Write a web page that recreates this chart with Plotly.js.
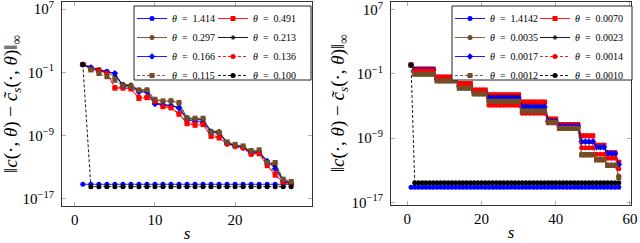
<!DOCTYPE html>
<html><head><meta charset="utf-8">
<script src="https://cdn.plot.ly/plotly-3.0.1.min.js"></script>
<style>body{margin:0;background:#fff}#c{width:640px;height:243px}</style>
</head><body><div id="c"></div>
<script>
// ---------- Left panel data (s = 1..27) ----------
const sLeft = [1,2,3,4,5,6,7,8,9,10,11,12,13,14,15,16,17,18,19,20,21,22,23,24,25,26,27];
const namesLeft = ['1.414','0.491','0.297','0.213','0.166','0.136','0.115','0.100'];
const L_1414 = [7e-16,7e-16,7e-16,7e-16,7e-16,7e-16,7e-16,7e-16,7e-16,7e-16,7e-16,7e-16,7e-16,7e-16,7e-16,7e-16,7e-16,7e-16,7e-16,7e-16,7e-16,7e-16,7e-16,7e-16,7e-16,7e-16,7e-16];
const L_0491 = [1.0,0.28,0.2,0.1,1e-3,1e-3,7.9e-4,5e-5,6.3e-5,1.6e-5,4.5e-6,3.2e-6,5e-7,3.2e-8,2e-8,2.5e-8,7.9e-10,5e-10,1e-10,5e-11,3.2e-11,5e-12,5e-12,1.6e-13,1e-14,1.3e-15,1e-15];
const L_0297 = [1.0,0.32,0.16,0.11,0.025,3.2e-3,2.5e-3,6.3e-4,6.3e-4,3.2e-5,2e-5,2.5e-5,1.3e-5,2e-7,1.3e-7,1.3e-7,2.5e-9,3.2e-9,1.3e-10,6.3e-11,4e-11,1e-11,1.3e-11,2.5e-13,3.2e-13,2.5e-15,1.3e-15];
const L_0213 = [1.05,0.45,0.22,0.13,0.063,2.5e-3,2e-3,5e-4,4e-4,1.6e-5,7.9e-6,6.3e-6,4e-6,1.6e-7,1e-7,1e-7,4e-9,3.2e-9,1.3e-10,5e-11,4e-11,7.9e-12,1e-11,5e-13,1.3e-13,2e-15,1e-15];
const L_0166 = [1.0,0.4,0.13,0.12,0.079,1.6e-3,1.3e-3,3.2e-4,3.2e-4,1e-5,7.9e-6,6.3e-6,2.8e-6,1e-7,6.3e-8,5e-8,2.5e-9,2e-9,1e-10,5e-11,3.2e-11,6.3e-12,7.9e-12,6.3e-13,6.3e-14,1.6e-15,7.9e-16];
const L_0136 = [1.0,0.25,0.16,0.079,1.3e-3,1.3e-3,1e-3,7.9e-5,7.9e-5,2e-5,5e-6,4e-6,6.3e-7,5e-8,3.2e-8,3.2e-8,1.3e-9,6.3e-10,7.9e-11,4e-11,2.5e-11,4e-12,6.3e-12,2.5e-13,1.6e-14,1e-15,7.9e-16];
const L_0115 = [1.0,0.2,0.071,0.028,0.01,2e-3,1.6e-3,5.6e-4,5.8e-4,4e-5,2.5e-5,2.5e-5,1.6e-5,1.6e-7,1.6e-7,1.6e-7,2.5e-9,2.5e-9,1.6e-10,7.9e-11,5e-11,1.3e-11,1.6e-11,4e-13,4e-13,3.2e-15,1.6e-15];
const L_0100 = [1.0,3.5e-16,3.5e-16,3.5e-16,3.5e-16,3.5e-16,3.5e-16,3.5e-16,3.5e-16,3.5e-16,3.5e-16,3.5e-16,3.5e-16,3.5e-16,3.5e-16,3.5e-16,3.5e-16,3.5e-16,3.5e-16,3.5e-16,3.5e-16,3.5e-16,3.5e-16,3.5e-16,3.5e-16,3.5e-16,3.5e-16];

// ---------- Right panel data (s = 1..57) ----------
const sRight = [1,2,3,4,5,6,7,8,9,10,11,12,13,14,15,16,17,18,19,20,21,22,23,24,25,26,27,28,29,30,31,32,33,34,35,36,37,38,39,40,41,42,43,44,45,46,47,48,49,50,51,52,53,54,55,56,57];
const namesRight = ['1.4142','0.0070','0.0035','0.0023','0.0017','0.0014','0.0012','0.0010'];
const R_14142 = [8e-16,8e-16,8e-16,8e-16,8e-16,8e-16,8e-16,8e-16,8e-16,8e-16,8e-16,8e-16,8e-16,8e-16,8e-16,8e-16,8e-16,8e-16,8e-16,8e-16,8e-16,8e-16,8e-16,8e-16,8e-16,8e-16,8e-16,8e-16,8e-16,8e-16,8e-16,8e-16,8e-16,8e-16,8e-16,8e-16,8e-16,8e-16,8e-16,8e-16,8e-16,8e-16,8e-16,8e-16,8e-16,8e-16,8e-16,8e-16,8e-16,8e-16,8e-16,8e-16,8e-16,8e-16,8e-16,8e-16,8e-16];
const R_0070 = [1.3, 0.4,0.4,0.4,0.4,0.4,0.4, 0.04,0.04,0.04,0.04,0.04,0.04, 6.3e-3,6.3e-3,6.3e-3,6.3e-3, 1e-3,1e-3,1e-3,1e-3, 2.5e-4,2.5e-4,2.5e-4,2.5e-4,2.5e-4,2.5e-4,2.5e-4,2.5e-4,2.5e-4, 3.2e-5,3.2e-5,3.2e-5,3.2e-5,3.2e-5,3.2e-5,3.2e-5, 2.5e-7,2.5e-7,2.5e-7, 5e-8,5e-8,5e-8,5e-8,5e-8,5e-8, 2e-9,2e-9,2e-9,2e-9, 1.3e-10,1.3e-10,1.3e-10, 1.6e-11,1.6e-11,1.6e-11, 1e-12];
const R_0035 = [1.3, 0.1,0.1,0.1,0.1,0.1,0.1, 0.016,0.016,0.016,0.016,0.016,0.016, 2e-3,2e-3,2e-3,2e-3, 4e-4,4e-4,4e-4,4e-4, 5e-5,5e-5,5e-5,5e-5,5e-5,5e-5,5e-5,5e-5,5e-5, 3.2e-6,3.2e-6,3.2e-6,3.2e-6,3.2e-6,3.2e-6,3.2e-6, 1e-7,1e-7,1e-7, 2e-8,2e-8,2e-8,2e-8,2e-8,2e-8, 1e-11,1e-11,1e-11,1e-11, 2.5e-12,2.5e-12,2.5e-12, 5e-13,5e-13,5e-13, 2e-14];
const R_0023 = [1.3, 0.32,0.32,0.32,0.32,0.32,0.32, 0.025,0.025,0.025,0.025,0.025,0.025, 3.2e-3,3.2e-3,3.2e-3,3.2e-3, 6.3e-4,6.3e-4,6.3e-4,6.3e-4, 1.3e-4,1.3e-4,1.3e-4,1.3e-4,1.3e-4,1.3e-4,1.3e-4,1.3e-4,1.3e-4, 1e-5,1e-5,1e-5,1e-5,1e-5,1e-5,1e-5, 1.3e-7,1.3e-7,1.3e-7, 3.2e-8,3.2e-8,3.2e-8,3.2e-8,3.2e-8,3.2e-8, 3.2e-10,3.2e-10,3.2e-10,3.2e-10, 6.3e-11,6.3e-11,6.3e-11, 1e-11,1e-11,1e-11, 6.3e-13];
const R_0017 = [1.3, 0.32,0.32,0.32,0.32,0.32,0.32, 0.025,0.025,0.025,0.025,0.025,0.025, 3.2e-3,3.2e-3,3.2e-3,3.2e-3, 6.3e-4,6.3e-4,6.3e-4,6.3e-4, 1e-4,1e-4,1e-4,1e-4,1e-4,1e-4,1e-4,1e-4,1e-4, 7.9e-6,7.9e-6,7.9e-6,7.9e-6,7.9e-6,7.9e-6,7.9e-6, 1.3e-7,1.3e-7,1.3e-7, 3.2e-8,3.2e-8,3.2e-8,3.2e-8,3.2e-8,3.2e-8, 4e-10,4e-10,4e-10,4e-10, 7.9e-11,7.9e-11,7.9e-11, 1.3e-11,1.3e-11,1.3e-11, 5e-13];
const R_0014 = [1.3, 0.25,0.25,0.25,0.25,0.25,0.25, 0.032,0.032,0.032,0.032,0.032,0.032, 4e-3,4e-3,4e-3,4e-3, 7.9e-4,7.9e-4,7.9e-4,7.9e-4, 1.3e-5,1.3e-5,1.3e-5,1.3e-5,1.3e-5,1.3e-5,1.3e-5,1.3e-5,1.3e-5, 1.3e-6,1.3e-6,1.3e-6,1.3e-6,1.3e-6,1.3e-6,1.3e-6, 7.9e-8,7.9e-8,7.9e-8, 2e-8,2e-8,2e-8,2e-8,2e-8,2e-8, 6.3e-11,6.3e-11,6.3e-11,6.3e-11, 1e-11,1e-11,1e-11, 3.2e-12,3.2e-12,3.2e-12, 1.6e-13];
const R_0012 = [1.3, 0.089,0.089,0.089,0.089,0.089,0.089, 0.013,0.013,0.013,0.013,0.013,0.013, 1.6e-3,1.6e-3,1.6e-3,1.6e-3, 3.2e-4,3.2e-4,3.2e-4,3.2e-4, 4e-5,4e-5,4e-5,4e-5,4e-5,4e-5,4e-5,4e-5,4e-5, 2.5e-6,2.5e-6,2.5e-6,2.5e-6,2.5e-6,2.5e-6,2.5e-6, 1e-7,1e-7,1e-7, 1.6e-8,1.6e-8,1.6e-8,1.6e-8,1.6e-8,1.6e-8, 7.9e-12,7.9e-12,7.9e-12,7.9e-12, 2e-12,2e-12,2e-12, 4e-13,4e-13,4e-13, 1.3e-14];
const R_0010 = [1.3,2.9e-15,2.9e-15,2.9e-15,2.9e-15,2.9e-15,2.9e-15,2.9e-15,2.9e-15,2.9e-15,2.9e-15,2.9e-15,2.9e-15,2.9e-15,2.9e-15,2.9e-15,2.9e-15,2.9e-15,2.9e-15,2.9e-15,2.9e-15,2.9e-15,2.9e-15,2.9e-15,2.9e-15,2.9e-15,2.9e-15,2.9e-15,2.9e-15,2.9e-15,2.9e-15,2.9e-15,2.9e-15,2.9e-15,2.9e-15,2.9e-15,2.9e-15,2.9e-15,2.9e-15,2.9e-15,2.9e-15,2.9e-15,2.9e-15,2.9e-15,2.9e-15,2.9e-15,2.9e-15,2.9e-15,2.9e-15,2.9e-15,2.9e-15,2.9e-15,2.9e-15,2.9e-15,2.9e-15,2.9e-15,2.9e-15];

// axis ticks
const xTicksLeft = [0,10,20];
const xTicksRight = [0,20,40,60];
const yTickVals = [1e7,1e-1,1e-9,1e-17];
const yTickText = ['10<sup>7</sup>','10<sup>\u22121</sup>','10<sup>\u22129</sup>','10<sup>\u221217</sup>'];

// styles (pgfplots default color cycle)
const BROWN = '#734d26';
const styles = [
  {color:'#0000ff', dash:'solid', symbol:'circle'},
  {color:'#ff0000', dash:'solid', symbol:'square'},
  {color:BROWN, dash:'solid', symbol:'circle'},
  {color:'#000000', dash:'solid', symbol:'asterisk-open'},
  {color:'#0000ff', dash:'solid', symbol:'diamond'},
  {color:'#ff0000', dash:'3px,2px', symbol:'circle'},
  {color:BROWN, dash:'3px,2px', symbol:'square'},
  {color:'#000000', dash:'3px,2px', symbol:'circle'}
];

const leftData = [L_1414,L_0491,L_0297,L_0213,L_0166,L_0136,L_0115,L_0100];
const rightData = [R_14142,R_0070,R_0035,R_0023,R_0017,R_0014,R_0012,R_0010];

function mk(x, y, name, st, xa, ya, legName){
  const star = st.symbol === 'asterisk-open';
  return {
    x:x, y:y, xaxis:xa, yaxis:ya, legend:legName, type:'scatter', mode:'lines+markers',
    name:'<i>\u03b8</i>\u2002=\u2002' + name,
    line:{color:st.color, width:0.9, dash:st.dash},
    marker:{symbol:st.symbol, size: star ? 4 : 5, color:st.color,
            line:{color:st.color, width: star ? 1 : 0}}
  };
}
const traces = [];
for(let i=0;i<8;i++) traces.push(mk(sLeft, leftData[i], namesLeft[i], styles[i], 'x', 'y', i%2===0 ? 'legend' : 'legend2'));
for(let i=0;i<8;i++) traces.push(mk(sRight, rightData[i], namesRight[i], styles[i], 'x2', 'y2', i%2===0 ? 'legend3' : 'legend4'));

const FONT = 'Liberation Serif';
const YTITLE = '\u2016<i>c</i>(\u00b7, <i>\u03b8</i>) \u2212 <i>c\u0303</i><sub><i>s</i></sub>(\u00b7, <i>\u03b8</i>)\u2016<sub>\u221e</sub>';

function xax(dom, rng, ticks, anchor){
  return {domain:dom, range:rng, tickmode:'array', tickvals:ticks, anchor:anchor,
    ticks:'inside', ticklen:4, tickcolor:'#b0b0b0', tickwidth:1,
    showline:true, linecolor:'#333', linewidth:1, mirror:'ticks',
    showgrid:false, zeroline:false, tickfont:{family:FONT, size:15}, ticklabeloverflow:'allow',
    title:{text:'<i>s</i>', font:{family:FONT, size:17}, standoff:0}};
}
function yax(dom, rng, anchor){
  return {domain:dom, type:'log', range:rng, tickmode:'array', tickvals:yTickVals, ticktext:yTickText, anchor:anchor,
    ticks:'inside', ticklen:4, tickcolor:'#b0b0b0', tickwidth:1,
    showline:true, linecolor:'#333', linewidth:1, mirror:'ticks',
    showgrid:false, zeroline:false, tickfont:{family:FONT, size:15}, ticklabelstandoff:4, ticklabeloverflow:'allow',
    title:{text:YTITLE, font:{family:FONT, size:19}, standoff:1}};
}
function legCol(xpx){
  return {x:xpx/640, y:1-4/243, xref:'paper', yref:'paper', xanchor:'left', yanchor:'top', orientation:'v',
    itemwidth:30, bgcolor:'rgba(0,0,0,0)', borderwidth:0,
    font:{family:FONT, size:10, color:'#000'}, tracegroupgap:0};
}

const layout = {
  width:640, height:243, margin:{l:0,r:0,t:0,b:0},
  paper_bgcolor:'#fff', plot_bgcolor:'#fff', showlegend:true,
  font:{family:FONT, size:12, color:'#000'},
  xaxis: xax([62/640, 312/640], [-1.6, 29.6], xTicksLeft, 'y'),
  yaxis: yax([1-206/243, 1-2/243], [-17.9, 7.9], 'x'),
  xaxis2: xax([391/640, 631/640], [-4.4, 60.3], xTicksRight, 'y2'),
  yaxis2: yax([1-204.5/243, 1-2/243], [-17.25, 7.95], 'x2'),
  legend: legCol(132),
  legend2: legCol(213),
  legend3: legCol(450),
  legend4: legCol(535),
  shapes: [
    {type:'rect', xref:'paper', yref:'paper', x0:134/640, x1:311/640, y0:1-80/243, y1:1-6/243,
     line:{color:'#222', width:1}, fillcolor:'#fff', layer:'above'},
    {type:'rect', xref:'paper', yref:'paper', x0:452/640, x1:632/640, y0:1-80/243, y1:1-6/243,
     line:{color:'#222', width:1}, fillcolor:'#fff', layer:'above'}
  ]
};

Plotly.newPlot('c', traces, layout, {displayModeBar:false, staticPlot:true});
</script>
</body></html>
